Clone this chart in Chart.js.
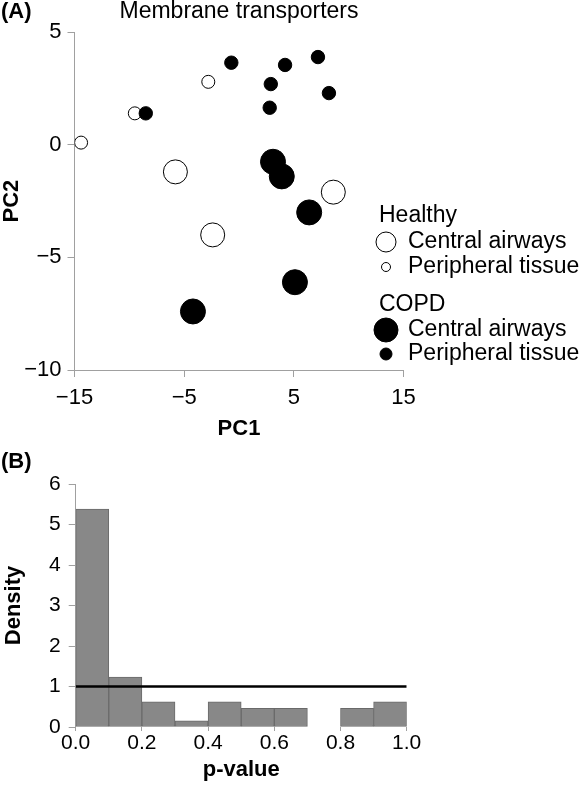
<!DOCTYPE html>
<html>
<head>
<meta charset="utf-8">
<title>Membrane transporters</title>
<script src="https://cdn.jsdelivr.net/npm/chart.js@4.4.1/dist/chart.umd.min.js"></script>
<style>
    body { margin: 0; background: #fff; }
    canvas { display: block; }
</style>
</head>
<body>
<canvas id="pcaChart" width="584" height="440"></canvas>
<canvas id="histChart" width="584" height="345"></canvas>
<script>
// PCA scores [PC1, PC2]
const healthyCentral = [[-5.8, -1.2], [8.6, -2.1], [-2.4, -4.0]];
const healthyPeripheral = [[-14.4, 0.1], [-9.5, 1.4], [-2.8, 2.8]];
const copdCentral = [[3.1, -0.75], [3.9, -1.4], [6.4, -3.0], [5.1, -6.1], [-4.2, -7.4]];
const copdPeripheral = [[-8.5, 1.4], [-0.7, 3.65], [2.9, 2.7], [4.2, 3.55], [7.2, 3.9], [8.2, 2.3], [2.8, 1.65]];

const pc1Ticks = [-15, -5, 5, 15];
const pc2Ticks = [-10, -5, 0, 5];

// p-value histogram (bin starts, density)
const binStarts = [0.0, 0.1, 0.2, 0.3, 0.4, 0.5, 0.6, 0.7, 0.8, 0.9];
const binWidth = 0.1;
const density = [5.38, 1.23, 0.62, 0.15, 0.62, 0.46, 0.46, 0, 0.46, 0.62];
const uniformLine = [[0, 1], [1, 1]];

const densityTicks = [0, 1, 2, 3, 4, 5, 6];
const pTicks = [0, 0.2, 0.4, 0.6, 0.8, 1.0];

const FONT = "'Liberation Sans', Arial, sans-serif";
const AXIS_GREY = '#a0a0a0';

Chart.defaults.font.family = FONT;
Chart.defaults.color = '#000';

function toPoints(arr) {
    return arr.map(p => ({ x: p[0], y: p[1] }));
}

function setTicks(list) {
    return function(scale) {
        scale.ticks = list.map(v => ({ value: v }));
    };
}

// Panel label "(A)" / "(B)"
function panelLabel(text, y) {
    return {
        id: 'panelLabel',
        afterDraw(chart) {
            const ctx = chart.ctx;
            ctx.save();
            ctx.font = 'bold 22px ' + FONT;
            ctx.fillStyle = '#000';
            ctx.textBaseline = 'middle';
            ctx.fillText(text, 1, y);
            ctx.restore();
        }
    };
}

// Grouped legend on the right of the scatter
const legendPlugin = {
    id: 'groupLegend',
    afterDraw(chart) {
        const ctx = chart.ctx;
        const groups = [
            { title: 'Healthy', y: 216, items: [
                { label: 'Central airways', r: 10, filled: false, y: 242 },
                { label: 'Peripheral tissue', r: 4.5, filled: false, y: 267 }
            ]},
            { title: 'COPD', y: 305, items: [
                { label: 'Central airways', r: 12, filled: true, y: 330 },
                { label: 'Peripheral tissue', r: 6, filled: true, y: 354 }
            ]}
        ];
        ctx.save();
        ctx.font = '23px ' + FONT;
        ctx.textBaseline = 'middle';
        groups.forEach(g => {
            ctx.fillStyle = '#000';
            ctx.fillText(g.title, 379, g.y);
            g.items.forEach(it => {
                ctx.beginPath();
                ctx.arc(386, it.y, it.r, 0, Math.PI * 2);
                ctx.fillStyle = it.filled ? '#000' : '#fff';
                ctx.fill();
                ctx.lineWidth = 1;
                ctx.strokeStyle = '#000';
                ctx.stroke();
                ctx.fillStyle = '#000';
                ctx.fillText(it.label, 408, it.y);
            });
        });
        ctx.restore();
    }
};

function pointSet(data, radius, filled, order) {
    return {
        data: toPoints(data),
        pointRadius: radius,
        pointBackgroundColor: filled ? '#000' : '#fff',
        pointBorderColor: '#000',
        pointBorderWidth: 1,
        order: order
    };
}

const minusSign = v => String(v).replace('-', '\u2212');

// (A) PCA scatter
new Chart(document.getElementById('pcaChart').getContext('2d'), {
    type: 'scatter',
    data: {
        datasets: [
            pointSet(copdCentral, 12.5, true, 0),
            pointSet(copdPeripheral, 6.7, true, 0),
            pointSet(healthyCentral, 12, false, 1),
            pointSet(healthyPeripheral, 6.5, false, 1)
        ]
    },
    options: {
        responsive: false,
        animation: false,
        events: [],
        layout: { padding: { left: 0, right: 180.5, top: 0, bottom: 0 } },
        plugins: {
            legend: { display: false },
            tooltip: { enabled: false },
            title: {
                display: true,
                fullSize: false,
                text: 'Membrane transporters',
                font: { size: 23, weight: 'normal', lineHeight: 1.0 },
                padding: { top: 0, bottom: 9.3 },
                color: '#000'
            }
        },
        scales: {
            x: {
                type: 'linear',
                min: -15,
                max: 15,
                afterBuildTicks: setTicks(pc1Ticks),
                afterFit: function(scale) { scale.height = 70; },
                grid: { drawOnChartArea: false, drawTicks: true, tickLength: 7, color: AXIS_GREY },
                border: { color: AXIS_GREY },
                ticks: { padding: 8, font: { size: 22 }, color: '#000', callback: minusSign },
                title: {
                    display: true,
                    text: 'PC1',
                    font: { size: 22, weight: 'bold', lineHeight: 1.0 },
                    padding: { top: 0, bottom: 0 }
                }
            },
            y: {
                type: 'linear',
                min: -10,
                max: 5,
                afterBuildTicks: setTicks(pc2Ticks),
                afterFit: function(scale) { scale.width = 74.5; },
                grid: { drawOnChartArea: false, drawTicks: true, tickLength: 7, color: AXIS_GREY },
                border: { color: AXIS_GREY },
                ticks: { padding: 6, font: { size: 22 }, color: '#000', callback: minusSign },
                title: {
                    display: true,
                    text: 'PC2',
                    font: { size: 22, weight: 'bold', lineHeight: 1.0 },
                    padding: { top: 0.5, bottom: 0 }
                }
            }
        }
    },
    plugins: [panelLabel('(A)', 12), legendPlugin]
});

// (B) p-value histogram
new Chart(document.getElementById('histChart').getContext('2d'), {
    type: 'bar',
    data: {
        datasets: [
            {
                type: 'line',
                data: toPoints(uniformLine),
                borderColor: '#000',
                borderWidth: 2.5,
                pointRadius: 0,
                order: 0
            },
            {
                type: 'bar',
                data: binStarts.map((b, i) => ({ x: b + binWidth / 2, y: density[i] })),
                backgroundColor: '#888888',
                borderColor: '#6a6a6a',
                borderWidth: 1,
                borderSkipped: false,
                barPercentage: 1,
                categoryPercentage: 1,
                order: 1
            }
        ]
    },
    options: {
        responsive: false,
        animation: false,
        events: [],
        layout: { padding: { left: 0, right: 177.3, top: 44, bottom: 0 } },
        plugins: {
            legend: { display: false },
            tooltip: { enabled: false }
        },
        scales: {
            x: {
                type: 'linear',
                offset: false,
                min: 0,
                max: 1,
                afterBuildTicks: setTicks(pTicks),
                afterFit: function(scale) { scale.height = 58; },
                grid: { drawOnChartArea: false, drawTicks: true, offset: false, tickLength: 4, color: AXIS_GREY },
                border: { display: false },
                ticks: { padding: 0, font: { size: 21 }, color: '#000', callback: v => v.toFixed(1) },
                title: {
                    display: true,
                    text: 'p-value',
                    font: { size: 22, weight: 'bold', lineHeight: 1.0 },
                    padding: { top: 0, bottom: 4 }
                }
            },
            y: {
                type: 'linear',
                min: 0,
                max: 6,
                afterBuildTicks: setTicks(densityTicks),
                afterFit: function(scale) { scale.width = 75.7; },
                grid: { drawOnChartArea: false, drawTicks: true, tickLength: 7, color: AXIS_GREY },
                border: { color: AXIS_GREY },
                ticks: { padding: 8, font: { size: 21 }, color: '#000' },
                title: {
                    display: true,
                    text: 'Density',
                    font: { size: 22, weight: 'bold', lineHeight: 1.0 },
                    padding: { top: 3, bottom: 0 }
                }
            }
        }
    },
    plugins: [panelLabel('(B)', 22)]
});
</script>
</body>
</html>
